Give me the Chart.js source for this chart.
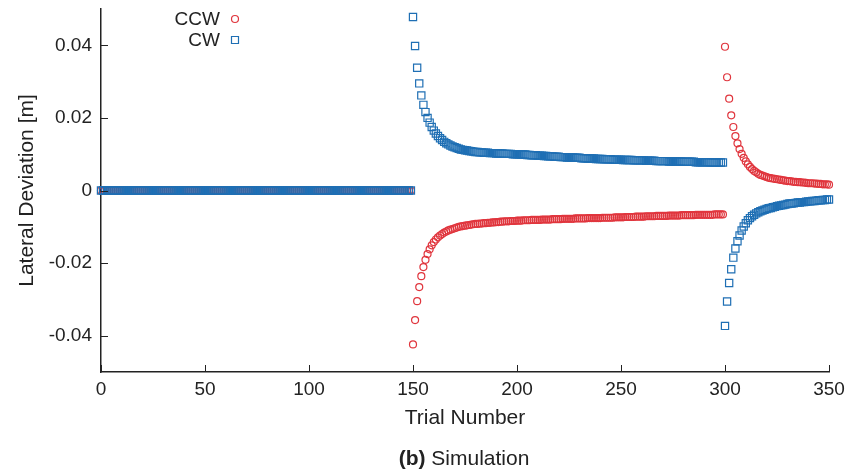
<!DOCTYPE html>
<html lang="en">
<head>
  <meta charset="UTF-8" />
  <title>Lateral Deviation - Simulation</title>
  <script src="https://cdn.jsdelivr.net/npm/chart.js"></script>
  <style>
    body { margin: 0; background: #fff; font-family: "Liberation Sans", Arial, sans-serif; }
    #wrap { position: relative; width: 861px; height: 473px; }
    #caption { position: absolute; left: 264px; width: 400px; top: 446px; line-height: 24px;
               text-align: center; font-size: 21px; color: #222; }
  </style>
</head>
<body>
  <div id="wrap">
    <canvas id="chart" width="861" height="473"></canvas>
    <div id="caption"><b>(b)</b> Simulation</div>
  </div>

  <script>
    // trials 0-149: both directions at zero
    const phase1 = [
      0,0,0,0,0,0,0,0,0,0,0,0,0,0,0,0,0,0,0,0,0,0,0,0,0,
      0,0,0,0,0,0,0,0,0,0,0,0,0,0,0,0,0,0,0,0,0,0,0,0,0,
      0,0,0,0,0,0,0,0,0,0,0,0,0,0,0,0,0,0,0,0,0,0,0,0,0,
      0,0,0,0,0,0,0,0,0,0,0,0,0,0,0,0,0,0,0,0,0,0,0,0,0,
      0,0,0,0,0,0,0,0,0,0,0,0,0,0,0,0,0,0,0,0,0,0,0,0,0,
      0,0,0,0,0,0,0,0,0,0,0,0,0,0,0,0,0,0,0,0,0,0,0,0,0
    ];

    // trials 150-299
    const ccwPhase2 = [
      -0.0424,-0.0357,-0.0305,-0.0266,-0.0236,-0.0211,-0.0191,-0.0175,-0.0162,-0.0151,
      -0.0142,-0.0135,-0.0129,-0.0124,-0.0120,-0.0116,-0.0113,-0.0110,-0.0108,-0.0106,
      -0.0104,-0.0102,-0.0100,-0.0099,-0.0098,-0.0097,-0.0096,-0.0095,-0.0094,-0.0093,
      -0.0092,-0.0092,-0.0091,-0.0091,-0.0090,-0.0090,-0.0089,-0.0089,-0.0088,-0.0088,
      -0.0087,-0.0087,-0.0086,-0.0086,-0.0085,-0.0085,-0.0085,-0.0084,-0.0084,-0.0084,
      -0.0083,-0.0083,-0.0083,-0.0082,-0.0082,-0.0082,-0.0082,-0.0081,-0.0081,-0.0081,
      -0.0081,-0.0081,-0.0080,-0.0080,-0.0080,-0.0080,-0.0080,-0.0079,-0.0079,-0.0079,
      -0.0079,-0.0079,-0.0078,-0.0078,-0.0078,-0.0078,-0.0078,-0.0078,-0.0077,-0.0077,
      -0.0077,-0.0077,-0.0077,-0.0077,-0.0076,-0.0076,-0.0076,-0.0076,-0.0076,-0.0076,
      -0.0076,-0.0075,-0.0075,-0.0075,-0.0075,-0.0075,-0.0075,-0.0074,-0.0074,-0.0074,
      -0.0074,-0.0074,-0.0073,-0.0073,-0.0073,-0.0073,-0.0073,-0.0072,-0.0072,-0.0072,
      -0.0072,-0.0072,-0.0071,-0.0071,-0.0071,-0.0071,-0.0071,-0.0070,-0.0070,-0.0070,
      -0.0070,-0.0070,-0.0070,-0.0069,-0.0069,-0.0069,-0.0069,-0.0069,-0.0069,-0.0068,
      -0.0068,-0.0068,-0.0068,-0.0068,-0.0068,-0.0068,-0.0067,-0.0067,-0.0067,-0.0067,
      -0.0067,-0.0067,-0.0067,-0.0067,-0.0067,-0.0066,-0.0066,-0.0066,-0.0066,-0.0066
    ];
    const cwPhase2 = [
      0.0478,0.0398,0.0338,0.0295,0.0262,0.0236,0.0216,0.0200,0.0187,0.0175,
      0.0165,0.0157,0.0150,0.0144,0.0139,0.0134,0.0130,0.0127,0.0124,0.0121,
      0.0119,0.0117,0.0115,0.0113,0.0112,0.0111,0.0110,0.0109,0.0108,0.0107,
      0.0106,0.0106,0.0105,0.0105,0.0104,0.0104,0.0104,0.0103,0.0103,0.0103,
      0.0102,0.0102,0.0102,0.0102,0.0101,0.0101,0.0101,0.0101,0.0100,0.0100,
      0.0100,0.0100,0.0099,0.0099,0.0099,0.0098,0.0098,0.0097,0.0097,0.0097,
      0.0096,0.0096,0.0096,0.0095,0.0095,0.0094,0.0094,0.0094,0.0093,0.0093,
      0.0093,0.0092,0.0092,0.0092,0.0091,0.0091,0.0091,0.0091,0.0090,0.0090,
      0.0090,0.0089,0.0089,0.0089,0.0088,0.0088,0.0088,0.0088,0.0087,0.0087,
      0.0087,0.0087,0.0086,0.0086,0.0086,0.0086,0.0085,0.0085,0.0085,0.0085,
      0.0085,0.0084,0.0084,0.0084,0.0084,0.0084,0.0083,0.0083,0.0083,0.0083,
      0.0083,0.0083,0.0082,0.0082,0.0082,0.0082,0.0082,0.0081,0.0081,0.0081,
      0.0081,0.0081,0.0081,0.0080,0.0080,0.0080,0.0080,0.0080,0.0080,0.0080,
      0.0079,0.0079,0.0079,0.0079,0.0079,0.0079,0.0078,0.0078,0.0078,0.0078,
      0.0078,0.0078,0.0078,0.0077,0.0077,0.0077,0.0077,0.0077,0.0077,0.0077
    ];

    // trials 300-350
    const ccwPhase3 = [
      0.0396,0.0312,0.0253,0.0207,0.0175,0.0150,0.0130,0.0114,0.0101,0.0090,
      0.0080,0.0072,0.0065,0.0059,0.0054,0.0050,0.0046,0.0043,0.0041,0.0039,
      0.0037,0.0035,0.0034,0.0033,0.0032,0.0031,0.0030,0.0029,0.0028,0.0027,
      0.0026,0.0026,0.0025,0.0024,0.0024,0.0023,0.0023,0.0022,0.0022,0.0021,
      0.0020,0.0020,0.0020,0.0019,0.0019,0.0018,0.0018,0.0017,0.0017,0.0017,
      0.0016
    ];
    const cwPhase3 = [
      -0.0373,-0.0306,-0.0255,-0.0217,-0.0185,-0.0160,-0.0140,-0.0124,-0.0110,-0.0099,
      -0.0090,-0.0082,-0.0076,-0.0071,-0.0067,-0.0063,-0.0060,-0.0057,-0.0055,-0.0053,
      -0.0051,-0.0049,-0.0048,-0.0046,-0.0045,-0.0043,-0.0042,-0.0041,-0.0040,-0.0039,
      -0.0037,-0.0036,-0.0036,-0.0035,-0.0034,-0.0033,-0.0033,-0.0032,-0.0032,-0.0031,
      -0.0030,-0.0030,-0.0029,-0.0029,-0.0028,-0.0027,-0.0027,-0.0026,-0.0026,-0.0025,
      -0.0025
    ];

    const xTicks = [0, 50, 100, 150, 200, 250, 300, 350];
    const yTicks = [-0.04, -0.02, 0, 0.02, 0.04];
    const seriesNames = ['CCW', 'CW'];

    const RED = '#e0353d';
    const BLUE = '#1f6fb4';
    const INK = '#222';
    const FONT = '"Liberation Sans", Arial, sans-serif';

    const ccw = [...phase1, ...ccwPhase2, ...ccwPhase3];
    const cw = [...phase1, ...cwPhase2, ...cwPhase3];
    const toPoints = arr => arr.map((y, i) => ({ x: i, y: y }));

    // inward tick marks, like the original plot
    const innerTicks = {
      id: 'innerTicks',
      afterDraw(chart) {
        const { ctx, chartArea, scales } = chart;
        ctx.save();
        ctx.strokeStyle = INK;
        ctx.lineWidth = 1;
        ctx.beginPath();
        xTicks.forEach(v => {
          const px = Math.round(scales.x.getPixelForValue(v)) + 0.5;
          ctx.moveTo(px, chartArea.bottom);
          ctx.lineTo(px, chartArea.bottom - 7);
        });
        yTicks.forEach(v => {
          const py = Math.round(scales.y.getPixelForValue(v)) + 0.5;
          ctx.moveTo(chartArea.left, py);
          ctx.lineTo(chartArea.left + 7, py);
        });
        ctx.stroke();
        ctx.restore();
      }
    };

    // key in the top left, text right aligned with the marker after it
    const keyBox = {
      id: 'keyBox',
      afterDraw(chart) {
        const { ctx } = chart;
        ctx.save();
        ctx.font = '19px ' + FONT;
        ctx.fillStyle = INK;
        ctx.textAlign = 'right';
        ctx.textBaseline = 'middle';
        const rows = [{ y: 20, color: RED, style: 'circle' }, { y: 41, color: BLUE, style: 'rect' }];
        rows.forEach((r, i) => {
          ctx.fillText(seriesNames[i], 220, r.y);
          ctx.strokeStyle = r.color;
          ctx.lineWidth = 1.2;
          ctx.beginPath();
          if (r.style === 'circle') ctx.arc(235, r.y - 1, 3.5, 0, Math.PI * 2);
          else ctx.rect(231.5, r.y - 4.5, 7, 7);
          ctx.stroke();
        });
        ctx.restore();
      }
    };

    new Chart(document.getElementById('chart'), {
      type: 'scatter',
      data: {
        datasets: [
          {
            label: seriesNames[0],
            data: toPoints(ccw),
            pointStyle: 'circle',
            pointRadius: 3.5,
            borderColor: RED,
            backgroundColor: 'rgba(0,0,0,0)',
            pointBorderWidth: 1.2,
            order: 1,
            clip: 6
          },
          {
            label: seriesNames[1],
            data: toPoints(cw),
            pointStyle: 'rect',
            pointRadius: 5.1,
            borderColor: BLUE,
            backgroundColor: 'rgba(0,0,0,0)',
            pointBorderWidth: 1.2,
            order: 0,
            clip: 6
          }
        ]
      },
      options: {
        responsive: false,
        animation: false,
        events: [],
        layout: { padding: { top: 9, right: 32, bottom: 41, left: 0 } },
        plugins: {
          legend: { display: false },
          tooltip: { enabled: false }
        },
        scales: {
          x: {
            type: 'linear',
            min: 0,
            max: 350,
            afterBuildTicks: s => { s.ticks = xTicks.map(v => ({ value: v })); },
            afterFit: s => { s.height = 60; s.paddingLeft = 0; s.paddingRight = 0; },
            grid: { display: false, drawTicks: false },
            border: { display: true, color: INK, width: 1.5 },
            ticks: {
              color: INK,
              padding: 6,
              maxRotation: 0,
              font: { family: FONT, size: 19 }
            },
            title: {
              display: true,
              text: 'Trial Number',
              color: INK,
              padding: { top: 0, bottom: 1 },
              font: { family: FONT, size: 21 }
            }
          },
          y: {
            type: 'linear',
            min: -0.05,
            max: 0.05,
            afterBuildTicks: s => { s.ticks = yTicks.map(v => ({ value: v })); },
            afterFit: s => { s.width = 101; s.paddingTop = 0; s.paddingBottom = 0; },
            grid: { display: false, drawTicks: false },
            border: { display: true, color: INK, width: 1.5 },
            ticks: {
              color: INK,
              padding: 9,
              callback: v => (v === 0 ? '0' : v.toFixed(2)),
              font: { family: FONT, size: 19 }
            },
            title: {
              display: true,
              text: 'Lateral Deviation [m]',
              color: INK,
              padding: { top: 15, bottom: 0 },
              font: { family: FONT, size: 21 }
            }
          }
        }
      },
      plugins: [innerTicks, keyBox]
    });
  </script>
</body>
</html>
